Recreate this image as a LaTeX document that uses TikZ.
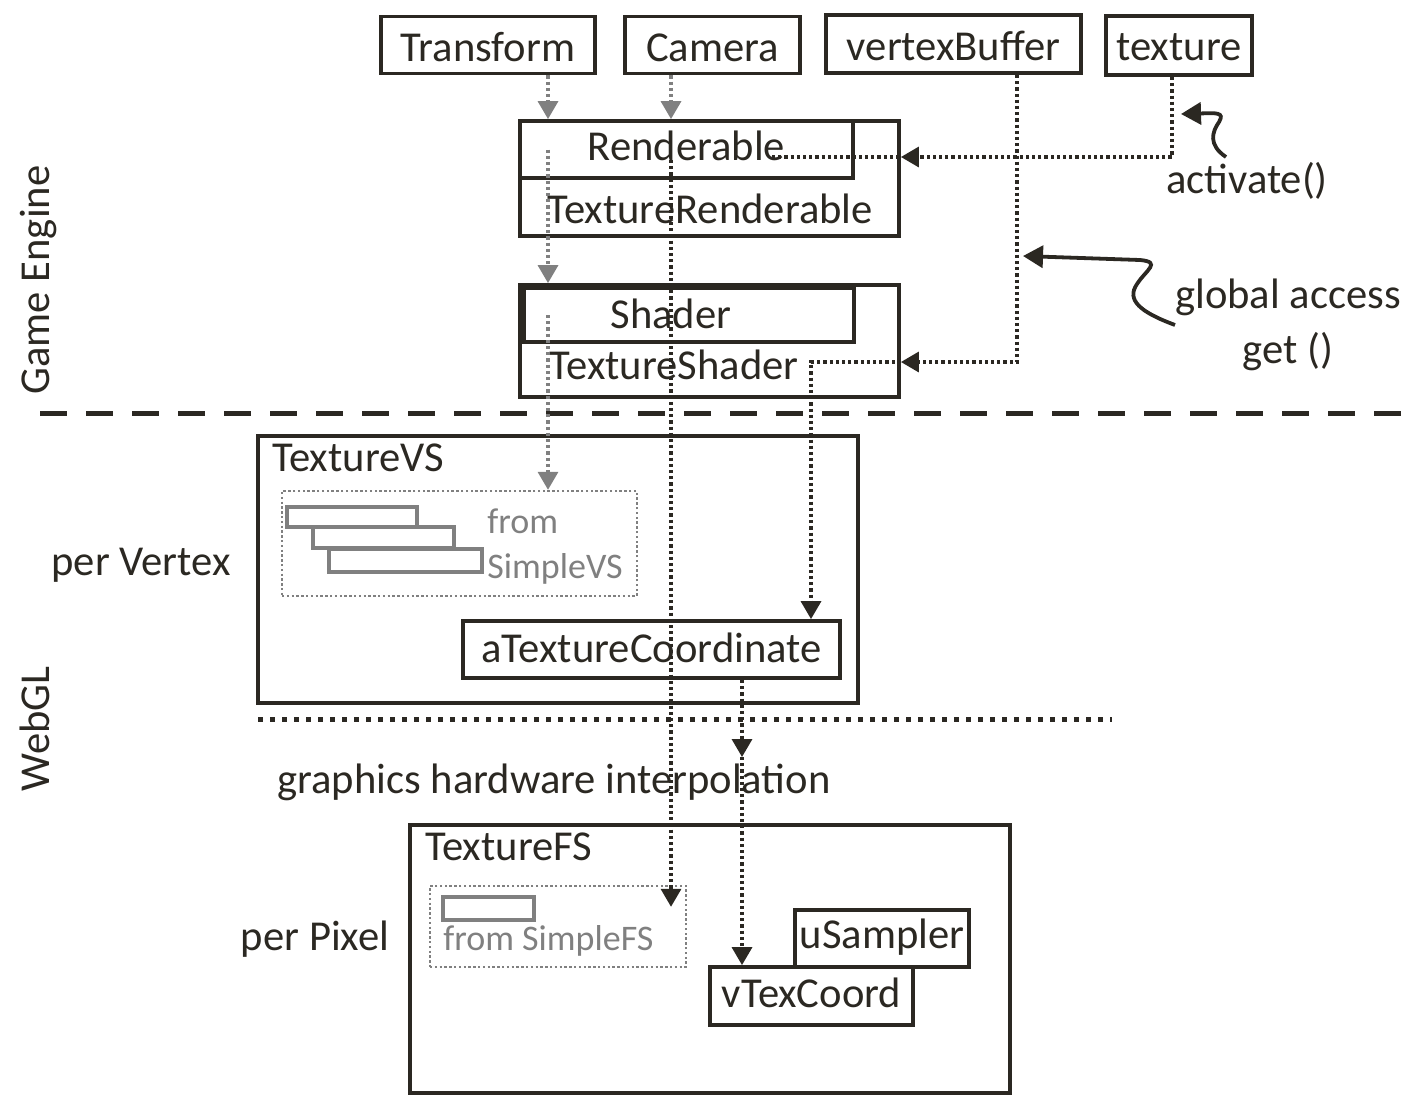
\documentclass[tikz,border=0pt]{standalone}
\usepackage{fontspec}
\setmainfont{Carlito}
\usetikzlibrary{arrows.meta,calc}
\definecolor{ink}{RGB}{43,40,34}
\definecolor{shade}{RGB}{128,128,128}
\tikzset{
    box/.style={draw=ink, line width=1.9pt, inner sep=0pt, text=ink, text depth=0pt},
    txt/.style={inner sep=0pt, anchor=base, text=ink},
    txtw/.style={txt, anchor=base west},
    gtxt/.style={inner sep=0pt, anchor=base west, text=shade, font=\fontsize{18pt}{21pt}\selectfont},
    gbox/.style={draw=shade, line width=1.6pt, inner sep=0pt},
    grp/.style={draw=shade, line width=1.2pt, dash pattern=on 1.2pt off 1.2pt, inner sep=0pt},
    dotline/.style={draw=ink, line width=1.7pt, dash pattern=on 1.6pt off 1.5pt},
    flow/.style={dotline, -{Triangle[width=10pt,length=9pt]}},
    gflow/.style={flow, draw=shade},
    hook/.style={draw=ink, line width=1.9pt, -{Triangle[width=11pt,length=10pt]}},
}
\begin{document}
\begin{tikzpicture}[x=0.5pt, y=-0.5pt, font=\fontsize{21.3pt}{25pt}\selectfont]
    \useasboundingbox (0,0) rectangle (1416,1109);

    % game engine
    \node[box, minimum width=107pt, minimum height=28.5pt, text height=16.5pt] (tf) at (488,45) {Transform};
    \node[box, minimum width=87.5pt, minimum height=28.5pt, text height=16.5pt] (cam) at (712.5,45) {Camera};
    \node[box, minimum width=127.5pt, minimum height=29pt, text height=16pt] (vb) at (953.5,44) {vertexBuffer};
    \node[box, minimum width=73pt, minimum height=29.5pt, text height=14.5pt] (tex) at (1179,45.5) {texture};

    \node[box, minimum width=189.5pt, minimum height=57.5pt] (trend) at (709.5,178.5) {};
    \node[box, minimum width=166.5pt, minimum height=28.5pt, text height=10.5pt] (rend) at (686.5,149.5) {Renderable};
    \node[txt] (trendtxt) at (710,223) {TextureRenderable};

    \node[box, minimum width=189.5pt, minimum height=56pt] (tshd) at (709.5,341) {};
    \node[box, minimum width=165pt, minimum height=27pt] (shd) at (689,315) {};
    \node[txt] (shdtxt) at (671,328) {Shader};
    \node[txt] (tshdtxt) at (674,379) {TextureShader};

    \node[txt] (act) at (1247,193) {activate()};
    \node[txt] (glob) at (1288,308) {global access};
    \node[txt] (get) at (1288,363) {get ()};

    \node[txt, rotate=90] (ge) at (49,280) {Game Engine};
    \node[txt, rotate=90] (webgl) at (49,729) {WebGL};

    \draw[ink, line width=2.5pt, dash pattern=on 13.5pt off 9.5pt] (40,413) -- (1416,413);

    % per vertex
    \node[box, minimum width=300pt, minimum height=133.5pt] (tvs) at (558,569.5) {};
    \node[txtw] (tvstxt) at (272,471) {TextureVS};
    \node[grp, minimum width=177.5pt, minimum height=52.5pt] (vsgrp) at (459.5,543.5) {};
    \node[gbox, minimum width=65pt, minimum height=10pt] (r1) at (352,517) {};
    \node[gbox, minimum width=70.5pt, minimum height=10.5pt] (r2) at (383.5,537.5) {};
    \node[gbox, minimum width=76.5pt, minimum height=11.5pt] (r3) at (405.5,560.5) {};
    \node[gtxt] (vsfrom) at (487,533) {from};
    \node[gtxt] (vsname) at (487,578) {SimpleVS};
    \node[box, minimum width=188.5pt, minimum height=28.5pt, text height=12.5pt] (atc) at (651.5,649.5) {aTextureCoordinate};
    \node[txt] (pervtx) at (141,575) {per Vertex};

    \draw[ink, line width=2.5pt, dash pattern=on 2.5pt off 3.5pt] (258,719) -- (1112,719);
    \node[txt] (ghi) at (554,793) {graphics hardware interpolation};

    % per pixel
    \node[box, minimum width=300pt, minimum height=134pt] (tfs) at (710,959) {};
    \node[txtw] (tfstxt) at (425,860) {TextureFS};
    \node[grp, minimum width=128pt, minimum height=40.5pt] (fsgrp) at (558,926.5) {};
    \node[gbox, minimum width=45.5pt, minimum height=11.5pt] (r4) at (488.5,908.5) {};
    \node[gtxt] (fsfrom) at (443,950) {from SimpleFS};
    \node[box, minimum width=87pt, minimum height=28.5pt, text height=9.5pt] (usm) at (882,938.5) {uSampler};
    \node[box, fill=white, minimum width=101.5pt, minimum height=29pt, text height=11pt] (vtc) at (811.5,996) {vTexCoord};
    \node[txt] (perpix) at (315,950) {per Pixel};

    % connectors
    \coordinate (xa) at (548,0);
    \coordinate (xb) at (671,0);
    \coordinate (xc) at (1172,0);
    \coordinate (xd) at (1017,0);
    \coordinate (xe) at (811,0);
    \coordinate (xf) at (742,0);
    \coordinate (ytex) at (0,157);
    \coordinate (yshd) at (0,362);
    \coordinate (rendend) at (772,157);
    \coordinate (interp) at (742,757);
    \coordinate (actfoot) at (1226,157);
    \coordinate (acttip) at (1181,114);
    \coordinate (globfoot) at (1175,325);
    \coordinate (globtip) at (1023,256);

    \draw[gflow] (tf.south -| xa) -- (trend.north -| xa);
    \draw[gflow] (cam.south -| xb) -- (trend.north -| xb);
    \draw[gflow] (rend.center -| xa) -- (tshd.north -| xa);
    \draw[gflow] (shd.center -| xa) -- (vsgrp.north -| xa);

    \draw[flow] (rend.base -| xb) -- ($(fsgrp.north -| xb)+(0,22)$);
    \draw[flow] (tex.south -| xc) |- (trend.east |- ytex);
    \draw[dotline] (rendend) -- (trend.east |- ytex);
    \draw[flow] (vb.south -| xd) |- (tshd.east |- yshd);
    \draw[flow] (tshd.east |- yshd) -| (atc.north -| xe);
    \draw[flow] (atc.south -| xf) -- (interp);
    \draw[flow] (interp) -- (vtc.north -| xf);

    \draw[hook] (actfoot) .. controls (1208,145) and (1212,132) .. (1219,122)
        .. controls (1225,112) and (1216,113) .. (acttip);
    \draw[hook] (globfoot) .. controls (1140,312) and (1126,300) .. (1137,284)
        .. controls (1146,270) and (1162,262) .. (1140,260) -- (globtip);
\end{tikzpicture}
\end{document}
